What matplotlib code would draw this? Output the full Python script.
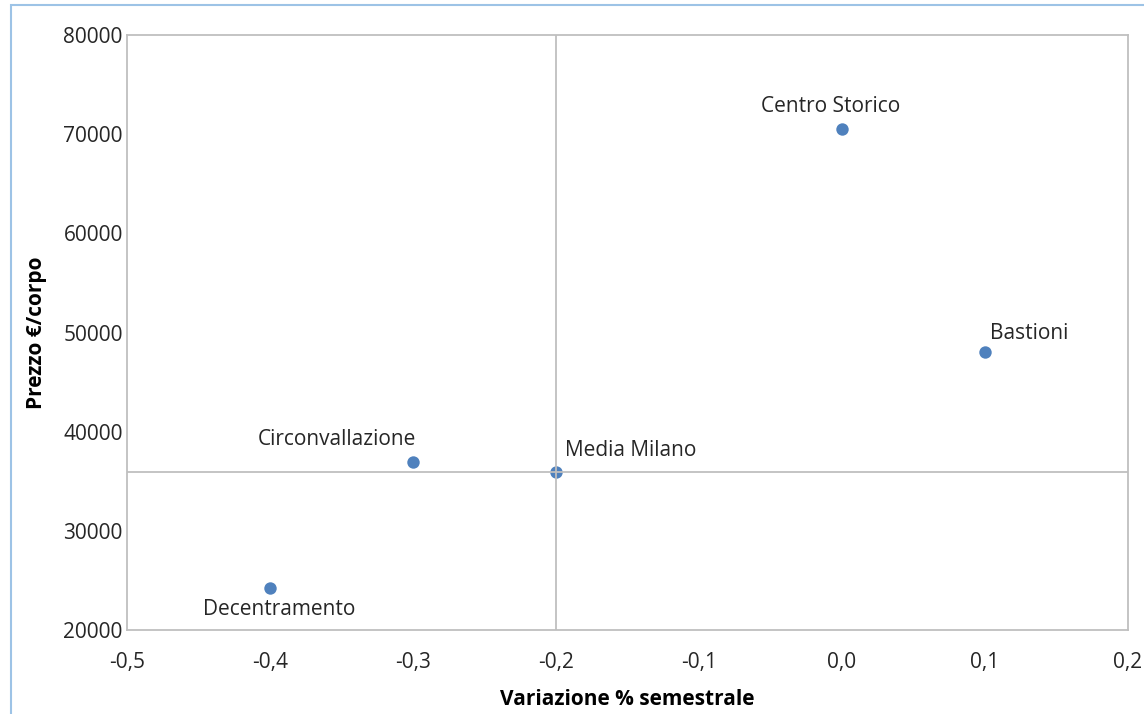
import matplotlib.pyplot as plt
from matplotlib.patches import Rectangle
from matplotlib.ticker import FuncFormatter

zone = ['Centro Storico', 'Bastioni', 'Circonvallazione', 'Media Milano', 'Decentramento']
variazione = [0.0, 0.1, -0.3, -0.2, -0.4]
prezzo = [70500, 48000, 36900, 35900, 24200]
# label offsets in points (dx, dy)
offsets = [(-8, 16.5), (32, 13.7), (-55, 16.5), (54, 16), (6.5, -15)]

media_x = -0.2
media_y = 35900

plt.rcParams['font.family'] = ['Open Sans', 'DejaVu Sans']

fig = plt.figure(figsize=(11.44, 7.14), dpi=100)
ax = fig.add_axes([0.111, 0.1176, 0.875, 0.8334])

fig.patches.append(Rectangle((11 / 1144, -0.1), 1.2, 1 - 5.5 / 714 + 0.1,
                             transform=fig.transFigure, fill=False,
                             edgecolor='#9DC3E6', linewidth=1.5))

ax.scatter(variazione, prezzo, s=80, color='#4F81BD', zorder=2, linewidths=0)
ax.axvline(media_x, color='#BFBFBF', lw=1.3, zorder=3)
ax.axhline(media_y, color='#BFBFBF', lw=1.3, zorder=3)

for name, x, y, off in zip(zone, variazione, prezzo, offsets):
    ax.annotate(name, (x, y), xytext=off, textcoords='offset points',
                ha='center', va='center', fontsize=15, color='#262626')

ax.set_xlim(-0.5, 0.2)
ax.set_ylim(20000, 80000)
ax.set_xticks([-0.5, -0.4, -0.3, -0.2, -0.1, 0.0, 0.1, 0.2])
ax.set_yticks(range(20000, 80001, 10000))
ax.xaxis.set_major_formatter(FuncFormatter(lambda v, p: f'{v:.1f}'.replace('.', ',').replace('-0,0', '0,0')))
ax.tick_params(length=0, labelsize=15, colors='#262626')
ax.tick_params(axis='x', pad=16)
ax.tick_params(axis='y', pad=3)

for s in ax.spines.values():
    s.set_color('#BFBFBF')
    s.set_linewidth(1.3)

ax.set_xlabel('Variazione % semestrale', fontsize=15, fontweight='bold', labelpad=11)
ax.set_ylabel('Prezzo €/corpo', fontsize=15, fontweight='bold', labelpad=12)

fig.savefig('out.png', dpi=100)
